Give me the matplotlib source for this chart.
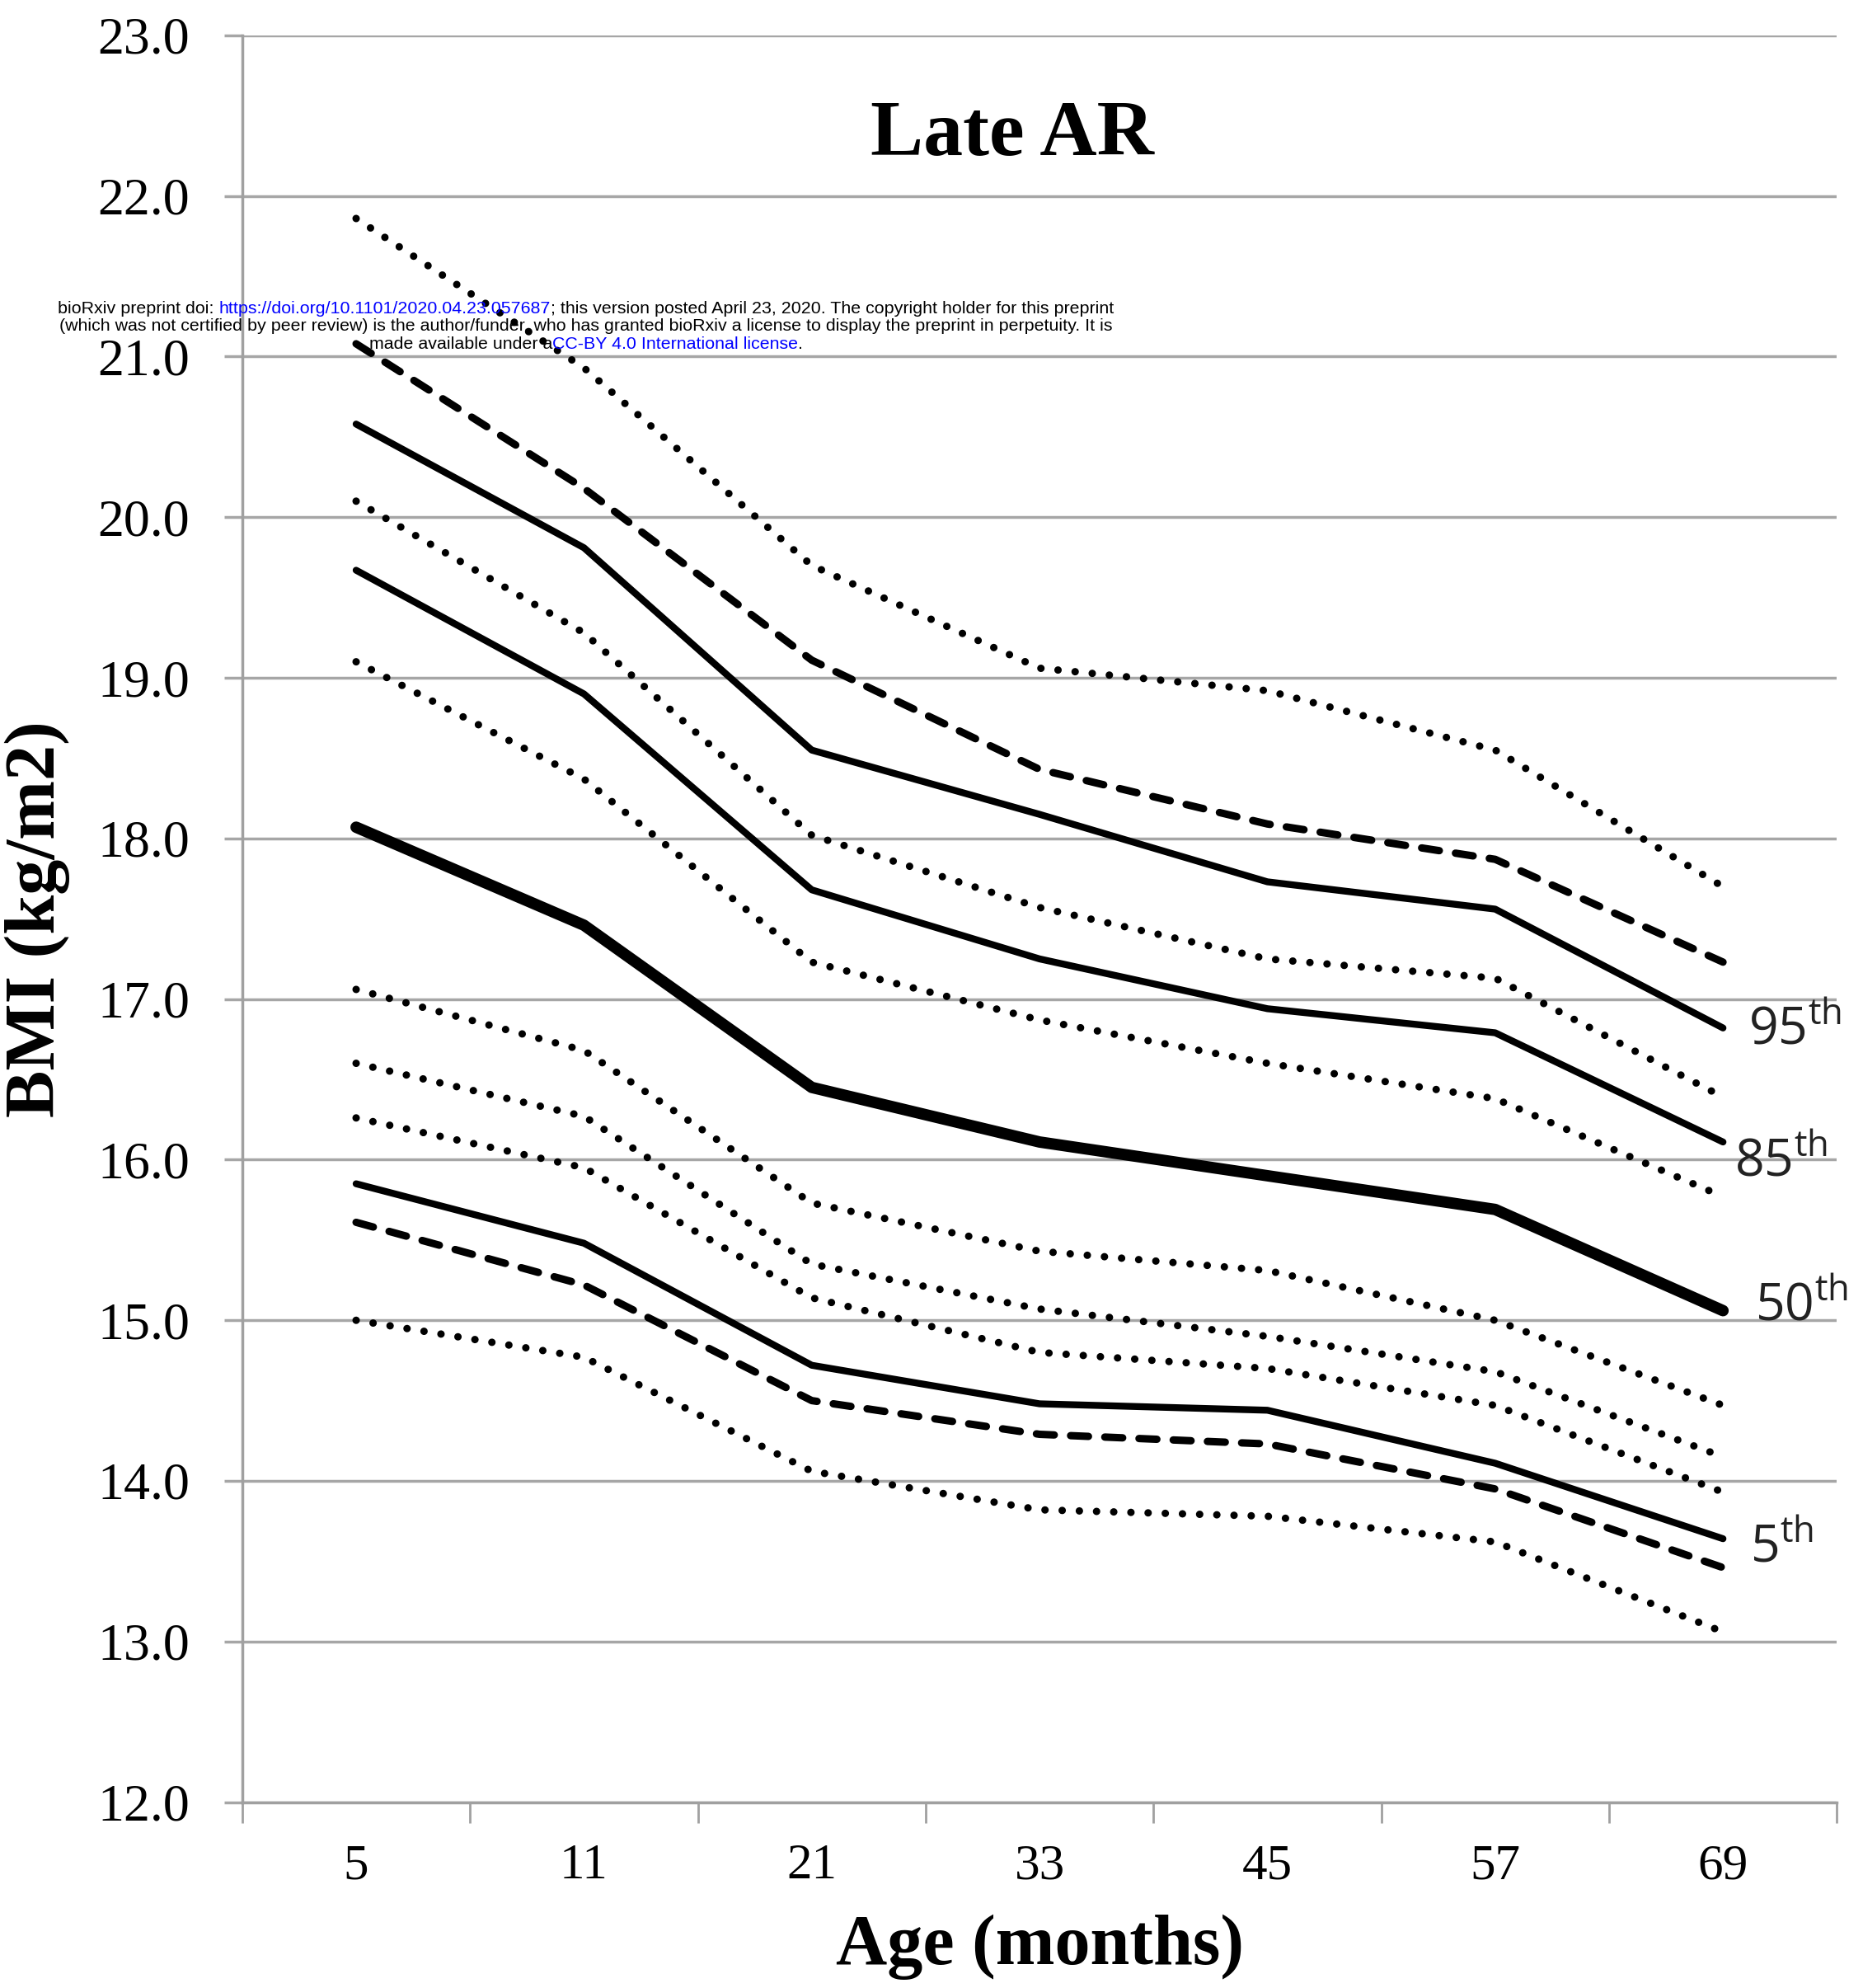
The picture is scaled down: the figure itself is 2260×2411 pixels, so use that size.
import matplotlib
matplotlib.use('Agg')
import matplotlib.pyplot as plt
import numpy as np

ages = ['5', '11', '21', '33', '45', '57', '69']
yticks = [12.0, 13.0, 14.0, 15.0, 16.0, 17.0, 18.0, 19.0, 20.0, 21.0, 22.0, 23.0]

# Late AR percentiles (solid) and reference curves (dotted / dashed)
dot_top = [21.86, 20.93, 19.70, 19.06, 18.92, 18.55, 17.70]
dash_up = [21.08, 20.18, 19.11, 18.43, 18.09, 17.87, 17.23]
p95 = [20.58, 19.81, 18.55, 18.15, 17.73, 17.56, 16.82]
dot_2 = [20.10, 19.28, 18.02, 17.57, 17.25, 17.13, 16.39]
p85 = [19.67, 18.90, 17.68, 17.25, 16.94, 16.79, 16.11]
dot_3 = [19.10, 18.37, 17.23, 16.87, 16.60, 16.38, 15.77]
p50 = [18.07, 17.46, 16.45, 16.11, 15.90, 15.69, 15.06]
dot_4 = [17.06, 16.68, 15.73, 15.43, 15.31, 15.00, 14.47]
dot_5 = [16.60, 16.27, 15.35, 15.07, 14.90, 14.68, 14.15]
dot_6 = [16.26, 15.95, 15.14, 14.80, 14.70, 14.47, 13.93]
p5 = [15.85, 15.48, 14.72, 14.48, 14.44, 14.11, 13.64]
dash_low = [15.61, 15.22, 14.50, 14.29, 14.23, 13.95, 13.46]
dot_bot = [15.00, 14.77, 14.06, 13.82, 13.78, 13.62, 13.06]

pct_labels = ['95', '85', '50', '5']
pct_ends = [16.80, 15.98, 15.08, 13.58]

x = np.arange(len(ages))

fig = plt.figure(figsize=(22.6, 24.11), dpi=100)
ax = fig.add_axes([0.130, 0.0935, 0.856, 0.8887])

dotted = dict(color='black', lw=6.5, linestyle=(0, (0.01, 2.3)), dash_capstyle='round')
dashed = dict(color='black', lw=6.5, linestyle=(0, (2.4, 2.2)), dash_capstyle='round')
solid = dict(color='black', lw=6.0, solid_capstyle='round', solid_joinstyle='round')

for s in [dot_top, dot_2, dot_3, dot_4, dot_5, dot_6, dot_bot]:
    ax.plot(x, s, **dotted)
for s in [dash_up, dash_low]:
    ax.plot(x, s, **dashed)
for s in [p95, p85, p5]:
    ax.plot(x, s, **solid)
ax.plot(x, p50, color='black', lw=10, solid_capstyle='round', solid_joinstyle='round')

plt.rcParams['mathtext.fontset'] = 'custom'
plt.rcParams['mathtext.rm'] = 'Open Sans'
label_x = [6.11, 6.05, 6.14, 6.12]
for lab, xv, yv in zip(pct_labels, label_x, pct_ends):
    ax.text(xv, yv, lab + r'$^{\mathrm{th}}$', fontsize=45, family='Open Sans',
            va='center', ha='left', color='#222222')

ax.set_xlim(-0.5, 6.5)
ax.set_ylim(12, 23)
ax.set_yticks(yticks)
ax.set_yticklabels(['%.1f' % v for v in yticks], family='Liberation Serif', fontsize=46)
ax.set_xticks(x)
ax.set_xticklabels(ages, family='Liberation Serif', fontsize=44)
ax.set_xticks(np.arange(-0.5, 7, 1), minor=True)
ax.tick_params(axis='x', which='major', length=0, pad=36)
ax.tick_params(axis='x', which='minor', length=18, width=2, color='#a0a0a0')
ax.tick_params(axis='y', length=16, width=2.5, color='#a6a6a6', pad=30)
ax.yaxis.grid(True, color='#a6a6a6', lw=2.5)
ax.set_axisbelow(True)
for side in ['top', 'right']:
    ax.spines[side].set_visible(False)
for side in ['left', 'bottom']:
    ax.spines[side].set_color('#a0a0a0')
    ax.spines[side].set_linewidth(2.5)

ax.set_ylabel('BMI (kg/m2)', family='Liberation Serif', fontweight='bold', fontsize=62, labelpad=24)
ax.set_xlabel('Age (months)', family='Liberation Serif', fontweight='bold', fontsize=62, labelpad=22)
ax.text(0.483, 0.943, 'Late AR', transform=ax.transAxes, ha='center', va='center',
        family='Liberation Serif', fontweight='bold', fontsize=69)

# bioRxiv banner, mixed colours, each line centred
banner = [
    [('bioRxiv preprint doi: ', 'black'), ('https://doi.org/10.1101/2020.04.23.057687', 'blue'),
     ('; this version posted April 23, 2020. The copyright holder for this preprint', 'black')],
    [('(which was not certified by peer review) is the author/funder, who has granted bioRxiv a license to display the preprint in perpetuity. It is', 'black')],
    [('made available under a', 'black'), ('CC-BY 4.0 International license', 'blue'), ('.', 'black')],
]
banner_y = [0.8425, 0.8335, 0.8245]
cx = 711
r = fig.canvas.get_renderer()
for parts, yf in zip(banner, banner_y):
    widths = []
    for s, c in parts:
        t = fig.text(0, 0, s, fontsize=15.4, family='Liberation Sans')
        widths.append(t.get_window_extent(r).width)
        t.remove()
    xpix = cx - sum(widths) / 2
    for (s, c), w in zip(parts, widths):
        fig.text(xpix / fig.bbox.width, yf, s, fontsize=15.4, family='Liberation Sans',
                 color=c, va='baseline', ha='left')
        xpix += w

fig.savefig('out.png', dpi=100)
